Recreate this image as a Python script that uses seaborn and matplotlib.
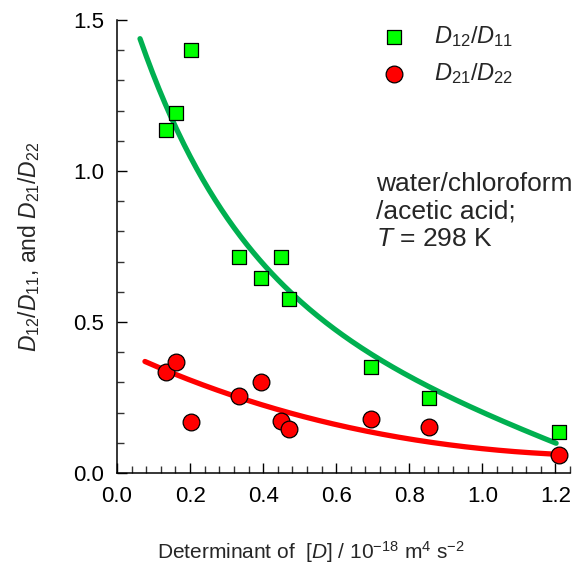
import numpy as np
import pandas as pd
import matplotlib
matplotlib.use("Agg")
import matplotlib.pyplot as plt
import seaborn as sns
from matplotlib.ticker import MultipleLocator

# ---- data ----
det_D = [0.135, 0.161, 0.203, 0.334, 0.394, 0.448, 0.471, 0.694, 0.853, 1.210]
ratio_12_11 = [1.136, 1.191, 1.400, 0.714, 0.645, 0.714, 0.576, 0.352, 0.248, 0.135]
ratio_21_22 = [0.333, 0.367, 0.169, 0.256, 0.301, 0.171, 0.145, 0.179, 0.152, 0.060]

# points
green_fit_x = [0.063, 0.127, 0.227, 0.300, 0.446, 0.537, 0.719, 0.864, 0.901, 1.202]
green_fit_y = [1.443, 1.224, 1.003, 0.838, 0.639, 0.529, 0.374, 0.275, 0.264, 0.098]
red_fit_x = [0.0765, 0.154, 0.336, 0.464, 0.582, 0.692, 0.856, 1.202]
red_fit_y = [0.372, 0.324, 0.255, 0.198, 0.164, 0.142, 0.098, 0.063]

x_ticks = [0.0, 0.2, 0.4, 0.6, 0.8, 1.0, 1.2]
y_ticks = [0.0, 0.5, 1.0, 1.5]


def smooth_fit(xs, ys):
    """Least-squares fit of y = a*exp(-b*x) + c + d*x (grid over b)."""
    xs = np.asarray(xs, float)
    ys = np.asarray(ys, float)
    best = None
    for b in np.linspace(0.5, 8.0, 751):
        A = np.column_stack([np.exp(-b * xs), np.ones_like(xs), xs])
        coef, *_ = np.linalg.lstsq(A, ys, rcond=None)
        res = np.sum((A @ coef - ys) ** 2)
        if best is None or res < best[0]:
            best = (res, b, coef)
    _, b, (a, c, d) = best
    return lambda x: a * np.exp(-b * x) + c + d * x


sns.set_theme(style="ticks")
plt.rcParams["font.family"] = ["Liberation Sans", "DejaVu Sans"]
plt.rcParams["mathtext.fontset"] = "custom"
plt.rcParams["mathtext.rm"] = "Liberation Sans"
plt.rcParams["mathtext.it"] = "Liberation Sans:italic"

fig = plt.figure(figsize=(5.78, 5.67), dpi=100)
ax = fig.add_axes([117 / 578, 94 / 567, 453 / 578, 453 / 567])

green_line = "#00B050"
red_line = "#FF0000"

# fit curves
gf = smooth_fit(green_fit_x, green_fit_y)
rf = smooth_fit(red_fit_x, red_fit_y)
gx = np.linspace(green_fit_x[0], green_fit_x[-1], 200)
rx = np.linspace(red_fit_x[0], red_fit_x[-1], 200)
g_df = pd.DataFrame({"x": gx, "y": gf(gx)})
r_df = pd.DataFrame({"x": rx, "y": rf(rx)})
sns.lineplot(data=g_df, x="x", y="y", ax=ax, color=green_line,
             linewidth=3.8, legend=False, zorder=2)
sns.lineplot(data=r_df, x="x", y="y", ax=ax, color=red_line,
             linewidth=3.8, legend=False, zorder=2)

df = pd.DataFrame({"det": det_D, "r12": ratio_12_11, "r21": ratio_21_22})
sns.scatterplot(data=df, x="det", y="r12", ax=ax, marker="s", s=100,
                color="#00FF00", edgecolor="black", linewidth=0.9,
                label=r"$D_{12}/D_{11}$", zorder=3)
sns.scatterplot(data=df, x="det", y="r21", ax=ax, marker="o", s=145,
                color="#FF0000", edgecolor="black", linewidth=0.9,
                label=r"$D_{21}/D_{22}$", zorder=3)

ax.set_xlim(0, 1.24)
ax.set_ylim(0, 1.5)
ax.set_xticks(x_ticks)
ax.set_yticks(y_ticks)
ax.set_xticklabels([f"{v:.1f}" for v in x_ticks])
ax.set_yticklabels([f"{v:.1f}" for v in y_ticks])
ax.xaxis.set_minor_locator(MultipleLocator(0.04))
ax.yaxis.set_minor_locator(MultipleLocator(0.1))
ax.tick_params(which="major", direction="in", length=7, width=1.0,
               labelsize=16, colors="black", pad=9)
ax.tick_params(which="minor", direction="in", length=5, width=1.0, colors="#333333")
for s in ["top", "right"]:
    ax.spines[s].set_visible(False)
for s in ["left", "bottom"]:
    ax.spines[s].set_linewidth(1.1)
    ax.spines[s].set_color("black")

ax.set_xlabel(r"Determinant of  [$D$] / 10$^{-18}$ m$^{4}$ s$^{-2}$", fontsize=15)
ax.xaxis.set_label_coords(0.428, -0.146)
ax.xaxis.label.set_va("top")
ax.set_ylabel(r"$D_{12}/D_{11}$, and $D_{21}/D_{22}$", fontsize=16.5)
ax.yaxis.set_label_coords(-0.165, 0.5)

leg = ax.legend(loc="upper left", bbox_to_anchor=(0.56, 1.012), frameon=False,
                fontsize=17, handletextpad=1.1, labelspacing=0.5,
                borderaxespad=0, handlelength=1.2)

ax.text(0.572, 0.665, "water/chloroform\n/acetic acid;\n$T$ = 298 K",
        transform=ax.transAxes, fontsize=19, va="top", ha="left",
        linespacing=1.2)

fig.savefig("out.png", dpi=100)
